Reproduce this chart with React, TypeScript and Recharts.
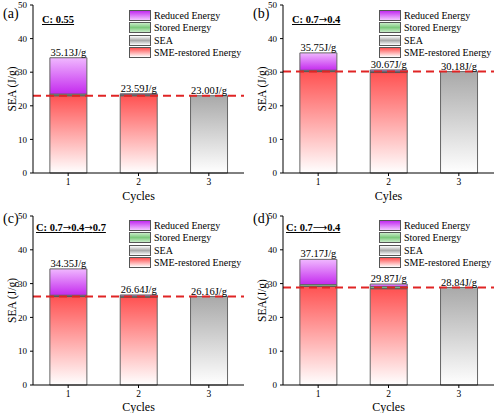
import React from 'react';
import { BarChart, Bar, XAxis, YAxis, ReferenceLine, LabelList, Legend } from 'recharts';

const font = '"Liberation Serif", "Times New Roman", serif';

const cycles = ['1', '2', '3'];
const yTicks = [0, 10, 20, 30, 40, 50];

// (a) C: 0.55
const smeA = [23.0, 23.0, 0];
const storedA = [0.5, 0.3, 0];
const reducedA = [10.8, 0.29, 0];
const seaA = [0, 0, 23.0];
const labelsA = ['35.13J/g', '23.59J/g', '23.00J/g'];

// (b) C: 0.7→0.4
const smeB = [30.18, 29.9, 0];
const storedB = [0.4, 0.4, 0];
const reducedB = [5.17, 0.37, 0];
const seaB = [0, 0, 30.18];
const labelsB = ['35.75J/g', '30.67J/g', '30.18J/g'];

// (c) C: 0.7→0.4→0.7
const smeC = [26.16, 26.0, 0];
const storedC = [0.4, 0.3, 0];
const reducedC = [7.79, 0.34, 0];
const seaC = [0, 0, 26.16];
const labelsC = ['34.35J/g', '26.64J/g', '26.16J/g'];

// (d) C: 0.7⟶0.4
const smeD = [29.2, 28.5, 0];
const storedD = [0.5, 0.6, 0];
const reducedD = [7.47, 0.77, 0];
const seaD = [0, 0, 28.84];
const labelsD = ['37.17J/g', '29.87J/g', '28.84J/g'];

const legendItems = [
  { name: 'Reduced Energy', bg: 'linear-gradient(to bottom, #c22cf0, #f2c6ff)' },
  { name: 'Stored Energy', bg: 'linear-gradient(to bottom, #c8ecc8, #7cc87c, #c8ecc8)' },
  { name: 'SEA', bg: 'linear-gradient(to bottom, #ffffff, #a8a8a8, #ffffff)' },
  { name: 'SME-restored Energy', bg: 'linear-gradient(to bottom, #ff5050, #ffffff)' },
];

function LegendBox() {
  return (
    <div style={{ fontFamily: font, fontSize: 10, color: '#000' }}>
      {legendItems.map((it) => (
        <div key={it.name} style={{ display: 'flex', alignItems: 'center', height: 12.5 }}>
          <div style={{ width: 20, height: 9, border: '1px solid #555', background: it.bg, marginRight: 3 }} />
          <span style={{ whiteSpace: 'nowrap' }}>{it.name}</span>
        </div>
      ))}
    </div>
  );
}

// arrows drawn in a font with a long, thin arrow glyph
function Title({ text }: { text: string }) {
  const parts = text.split(/([→⟶])/);
  return (
    <>
      {parts.map((s, i) =>
        s === '→' || s === '⟶' ? (
          <span key={i} style={{ fontFamily: '"DejaVu Sans"', fontWeight: 'normal', fontSize: 10 }}>{s}</span>
        ) : (
          <span key={i}>{s}</span>
        )
      )}
    </>
  );
}

type PanelProps = {
  id: string;
  tag: string;
  title: string;
  xLabel: string;
  yLabel: string;
  sme: number[];
  stored: number[];
  reduced: number[];
  sea: number[];
  labels: string[];
  base: number;
  left: number;
  top: number;
  row: number;
};

function Panel(p: PanelProps) {
  const data = cycles.map((c, i) => ({
    cycle: c,
    sme: p.sme[i],
    stored: p.stored[i],
    reduced: p.reduced[i],
    sea: p.sea[i],
    label: p.labels[i],
  }));
  const upper = p.row === 0;
  const h = upper ? 205 : 208;
  const yLab = (props: any) => {
    const vb = props.viewBox || {};
    const cx = vb.x + 12;
    const cy = vb.y + vb.height / 2;
    return (
      <text x={cx} y={cy} transform={`rotate(-90 ${cx} ${cy})`} textAnchor="middle" dominantBaseline="central"
        fontSize={11.5} fontFamily={font} fill="#000">
        {p.yLabel}
      </text>
    );
  };
  const lbl = { dataKey: 'label', position: 'top' as const, offset: 2, fontSize: 10.5, fill: '#000', fontFamily: font };
  return (
    <div style={{ position: 'absolute', left: p.left, top: p.top, width: 250, height: h }}>
      <BarChart width={250} height={h} data={data} barCategoryGap="24%"
        margin={{ top: upper ? 5 : 11, right: 6, left: 0, bottom: 0 }}>
        <defs>
          <linearGradient id={`red-${p.id}`} x1="0" y1="0" x2="0" y2="1">
            <stop offset="0%" stopColor="#ff5252" />
            <stop offset="100%" stopColor="#ffffff" />
          </linearGradient>
          <linearGradient id={`gray-${p.id}`} x1="0" y1="0" x2="0" y2="1">
            <stop offset="0%" stopColor="#a9a9a9" />
            <stop offset="100%" stopColor="#ffffff" />
          </linearGradient>
          <linearGradient id={`purple-${p.id}`} x1="0" y1="0" x2="0" y2="1">
            <stop offset="0%" stopColor="#f0b8ff" />
            <stop offset="100%" stopColor="#c42aee" />
          </linearGradient>
        </defs>
        <XAxis dataKey="cycle" height={upper ? 32 : 28} tickSize={3} tickMargin={2}
          tick={{ fontSize: 9.5, fill: '#000', fontFamily: font }}
          axisLine={{ stroke: '#000' }} tickLine={{ stroke: '#000' }}
          label={{ value: p.xLabel, position: 'insideBottom', offset: upper ? 5 : 2, fontSize: 12, fill: '#000', fontFamily: font }} />
        <XAxis xAxisId="t" dataKey="cycle" orientation="top" height={0} tick={false} tickLine={false} axisLine={{ stroke: '#000' }} />
        <YAxis domain={[0, 50]} ticks={yTicks} width={33} tickSize={3} tickMargin={3} interval={0}
          tick={{ fontSize: 9, fill: '#000', fontFamily: font }}
          axisLine={{ stroke: '#000' }} tickLine={{ stroke: '#000' }} label={yLab} />
        <YAxis yAxisId="r" orientation="right" width={0} domain={[0, 50]} tick={false} tickLine={false} axisLine={{ stroke: '#000' }} />
        <Bar dataKey="sme" stackId="s" fill={`url(#red-${p.id})`} stroke="#666" isAnimationActive={false} />
        <Bar dataKey="stored" stackId="s" fill="#8fd18f" stroke="#555" isAnimationActive={false} />
        <Bar dataKey="reduced" stackId="s" fill={`url(#purple-${p.id})`} stroke="#666" isAnimationActive={false}>
          <LabelList {...lbl} />
        </Bar>
        <Bar dataKey="sea" stackId="s" fill={`url(#gray-${p.id})`} stroke="#666" isAnimationActive={false}>
          <LabelList {...lbl} />
        </Bar>
        <ReferenceLine y={p.base} stroke="#e02424" strokeDasharray="8 5" strokeWidth={2} />
        <Legend layout="horizontal" verticalAlign="middle" align="center" content={() => <LegendBox />}
          wrapperStyle={{ top: upper ? 9 : 14, left: 129, width: 'auto', height: 'auto' }} />
      </BarChart>
      <div style={{ position: 'absolute', left: 3, top: 6, fontFamily: font, fontSize: 14, color: '#000' }}>{p.tag}</div>
      <div style={{ position: 'absolute', left: upper ? 42 : 36, top: upper ? 14 : 17, fontFamily: font, fontSize: 10.5,
        fontWeight: 'bold', textDecoration: 'underline', color: '#000', whiteSpace: 'nowrap' }}>
        <Title text={p.title} />
      </div>
    </div>
  );
}

export default function App() {
  return (
    <div style={{ position: 'fixed', left: 0, top: 0, width: 500, height: 413, background: '#fff' }}>
      <Panel id="a" tag="(a)" title="C: 0.55" xLabel="Cycles" yLabel="SEA (J/g)"
        sme={smeA} stored={storedA} reduced={reducedA} sea={seaA} labels={labelsA} base={23.0}
        left={0} top={0} row={0} />
      <Panel id="b" tag="(b)" title="C: 0.7→0.4" xLabel="Cyles" yLabel="SEA (J/g)"
        sme={smeB} stored={storedB} reduced={reducedB} sea={seaB} labels={labelsB} base={30.18}
        left={250} top={0} row={0} />
      <Panel id="c" tag="(c)" title="C: 0.7→0.4→0.7" xLabel="Cycles" yLabel="SEA (J/g)"
        sme={smeC} stored={storedC} reduced={reducedC} sea={seaC} labels={labelsC} base={26.16}
        left={0} top={205} row={1} />
      <Panel id="d" tag="(d)" title="C: 0.7⟶0.4" xLabel="Cycles" yLabel="SEA(J/g)"
        sme={smeD} stored={storedD} reduced={reducedD} sea={seaD} labels={labelsD} base={28.84}
        left={250} top={205} row={1} />
    </div>
  );
}
